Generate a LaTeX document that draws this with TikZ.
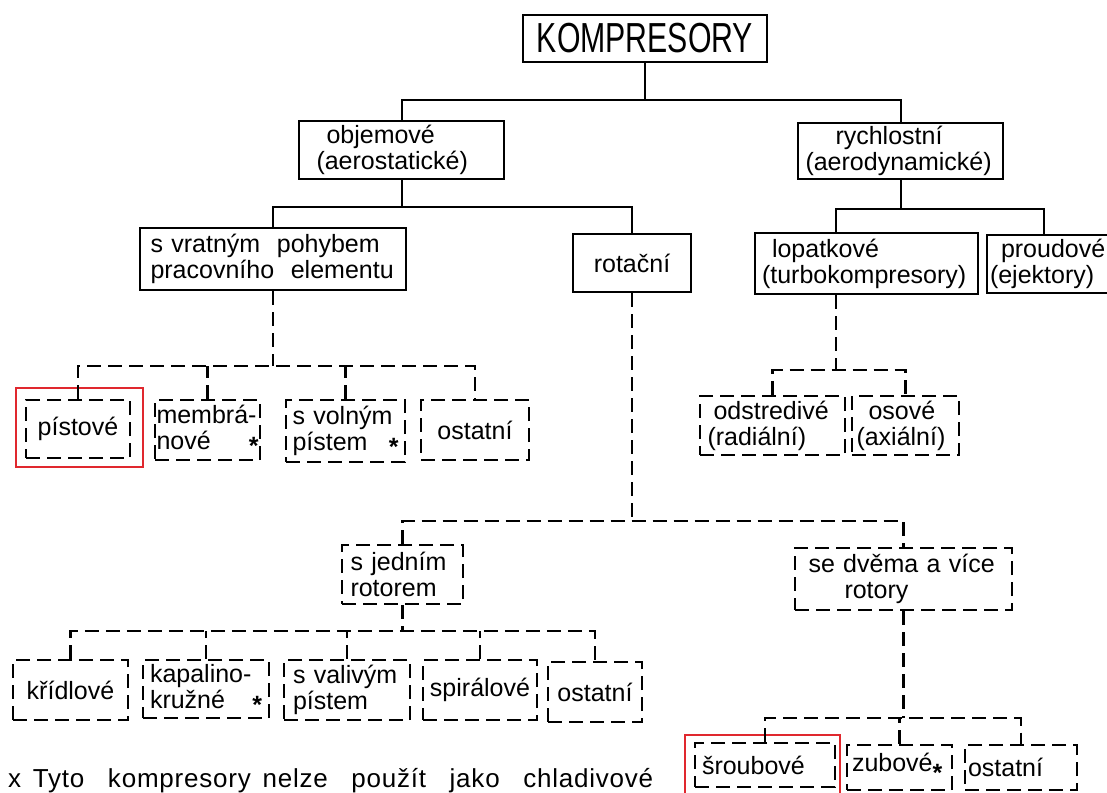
\documentclass[tikz,border=0pt]{standalone}
\usepackage{fontspec}
\usepackage{graphicx}
\setmainfont{Liberation Sans}
\usetikzlibrary{calc}
\definecolor{boxred}{RGB}{224,40,46}
\tikzset{
  every node/.style={font=\fontsize{25pt}{26pt}\selectfont},
  sbox/.style={draw, line width=2pt, inner sep=0pt, align=center},
  dbox/.style={draw, line width=2.4pt, dash pattern=on 14pt off 7pt, inner sep=0pt, align=center},
  sline/.style={line width=2pt},
  dline/.style={line width=2.4pt, dash pattern=on 14pt off 7pt},
  redbox/.style={draw=boxred, line width=2.6pt, inner sep=0pt},
}
\newcommand{\astx}{\raisebox{-5pt}{\textbf{*}}}
\hyphenpenalty=10000
\exhyphenpenalty=10000
\begin{document}
\begin{tikzpicture}[x=1pt,y=-1pt]
\fill[white] (0,0) rectangle (1107,792);
\useasboundingbox (0,0) rectangle (1107,792);

% solid boxes
\node[sbox, minimum width=244pt, minimum height=47pt] (komp) at (645,38.5)
  {\scalebox{0.72}[1]{\fontsize{42pt}{42pt}\selectfont KOMPRESORY}};
\node[sbox, minimum width=205pt, minimum height=58pt, text width=170pt, align=left] (objem) at (401.5,150)
  {\hspace*{10pt}objemové\\(aerostatické)};
\node[sbox, minimum width=205pt, minimum height=56pt, text width=190pt, align=left] (rychl) at (900.5,151)
  {\hspace*{30pt}rychlostní\\(aerodynamické)};
\node[sbox, minimum width=266pt, minimum height=62pt, text width=245pt, align=left] (vrat) at (273,259)
  {s vratným\ \ pohybem\\pracovního\ \ elementu};
\node[sbox, minimum width=118pt, minimum height=58pt] (rot) at (632,263) {rotační};
\node[sbox, minimum width=223pt, minimum height=61pt, text width=209pt, align=left] (lopat) at (866.5,263.5)
  {\hspace*{10pt}lopatkové\\(turbokompresory)};
\node[sbox, minimum width=133pt, minimum height=58pt, text width=127pt, align=left] (proud) at (1053.5,264)
  {\hspace*{11pt}proudové\\(ejektory)};

% dashed boxes, level 3
\node[dbox, minimum width=104pt, minimum height=58pt] (pist) at (78,429) {pístové};
\node[dbox, minimum width=105pt, minimum height=60pt, text width=102pt, align=left] (membr) at (207.5,430)
  {\mbox{membrá-}\\nové\hfill\astx\hspace*{6pt}};
\node[dbox, minimum width=119pt, minimum height=62pt, text width=106pt, align=left] (svol) at (345.5,431)
  {\mbox{s volným}\\pístem\hfill\astx\hspace*{4pt}};
\node[dbox, minimum width=108pt, minimum height=60pt] (ostat1) at (475,430) {ostatní};
\node[dbox, minimum width=145pt, minimum height=59pt, text width=130pt, align=left] (odstr) at (772.5,425.5)
  {\hspace*{6pt}odstredivé\\(radiální)};
\node[dbox, minimum width=107pt, minimum height=59pt, text width=98pt, align=left] (osove) at (905.5,425.5)
  {\hspace*{12pt}osové\\(axiální)};

% level 4
\node[dbox, minimum width=121pt, minimum height=59pt, text width=104pt, align=left] (jedn) at (402.5,574.5)
  {s jedním\\rotorem};
\node[dbox, minimum width=217pt, minimum height=62pt, text width=190pt, align=left] (dvem) at (903.5,579)
  {se dvěma a více\\\hspace*{36pt}rotory};

% level 5
\node[dbox, minimum width=115pt, minimum height=60pt] (krid) at (70.5,690) {křídlové};
\node[dbox, minimum width=126pt, minimum height=58pt, text width=112pt, align=left] (kapal) at (206,689)
  {kapalino-\\kružné\hfill\astx\hspace*{4pt}};
\node[dbox, minimum width=126pt, minimum height=60pt, text width=108pt, align=left] (valiv) at (347,690)
  {s valivým\\pístem};
\node[dbox, minimum width=114pt, minimum height=60pt] (spir) at (480,690) {spirálové};
\node[dbox, minimum width=94pt, minimum height=60pt] (ostat2) at (595,692) {ostatní};
\node[dbox, minimum width=140pt, minimum height=44pt, text width=126pt, align=left] (sroub) at (765,765) {šroubové};
\node[dbox, minimum width=105pt, minimum height=45pt, text width=95pt, align=left] (zub) at (899.5,767.5)
  {zubové\raisebox{-10pt}{\textbf{*}}};
\node[dbox, minimum width=112pt, minimum height=45pt, text width=106pt, align=left] (ostat3) at (1021,767.5) {ostatní};

% red highlight frames
\node[redbox, minimum width=127pt, minimum height=79pt] (pistred) at (79.5,427.5) {};
\node[redbox, minimum width=155pt, minimum height=65pt] (sroubred) at (762.5,767.5) {};

% solid connectors
\draw[sline] (komp.south) -- ++(0,37) coordinate (b1);
\draw[sline] (objem.north) |- (b1) -| (rychl.north);
\draw[sline] (objem.south) -- ++(0,27) coordinate (b2);
\draw[sline] (vrat.north) |- (b2) -| (rot.north);
\draw[sline] (rychl.south) -- ++(0,29) coordinate (b3);
\draw[sline] ($(lopat.north west)+(82,0)$) |- (b3) -| ($(proud.north west)+(58,0)$);

% dashed connectors
\draw[dline] (vrat.south) -- ++(0,75) coordinate (b4);
\draw[dline] (pist.north) |- (b4) -| (ostat1.north);
\draw[dline] (membr.north) -- (membr.north |- b4);
\draw[dline] (svol.north) -- (svol.north |- b4);

\draw[dline] ($(lopat.south west)+(82,0)$) -- ++(0,75) coordinate (b5);
\draw[dline] (odstr.north) |- (b5) -| (osove.north);

\draw[dline] (rot.south) -- ++(0,228) coordinate (b6);
\draw[dline] (jedn.north) |- (b6) -| (dvem.north);

\draw[dline] (jedn.south) -- ++(0,26) coordinate (b7);
\draw[dline] (krid.north) |- (b7) -| (ostat2.north);
\draw[dline] (kapal.north) -- (kapal.north |- b7);
\draw[dline] (valiv.north) -- (valiv.north |- b7);
\draw[dline] (spir.north) -- (spir.north |- b7);

\draw[dline] (dvem.south) -- ++(0,107) coordinate (b8);
\draw[dline] (sroub.north) |- (b8) -| (ostat3.north);
\draw[dline] (zub.north) -- (zub.north |- b8);

% footnote
\node[anchor=base west, inner sep=0pt, font=\fontsize{26pt}{26pt}\selectfont] (note) at (8,787)
  {\addfontfeatures{LetterSpace=3}\makebox[645pt][s]{x Tyto\ \ kompresory\ nelze\ \ použít\ \ jako\ \ chladivové}};
\end{tikzpicture}
\end{document}
